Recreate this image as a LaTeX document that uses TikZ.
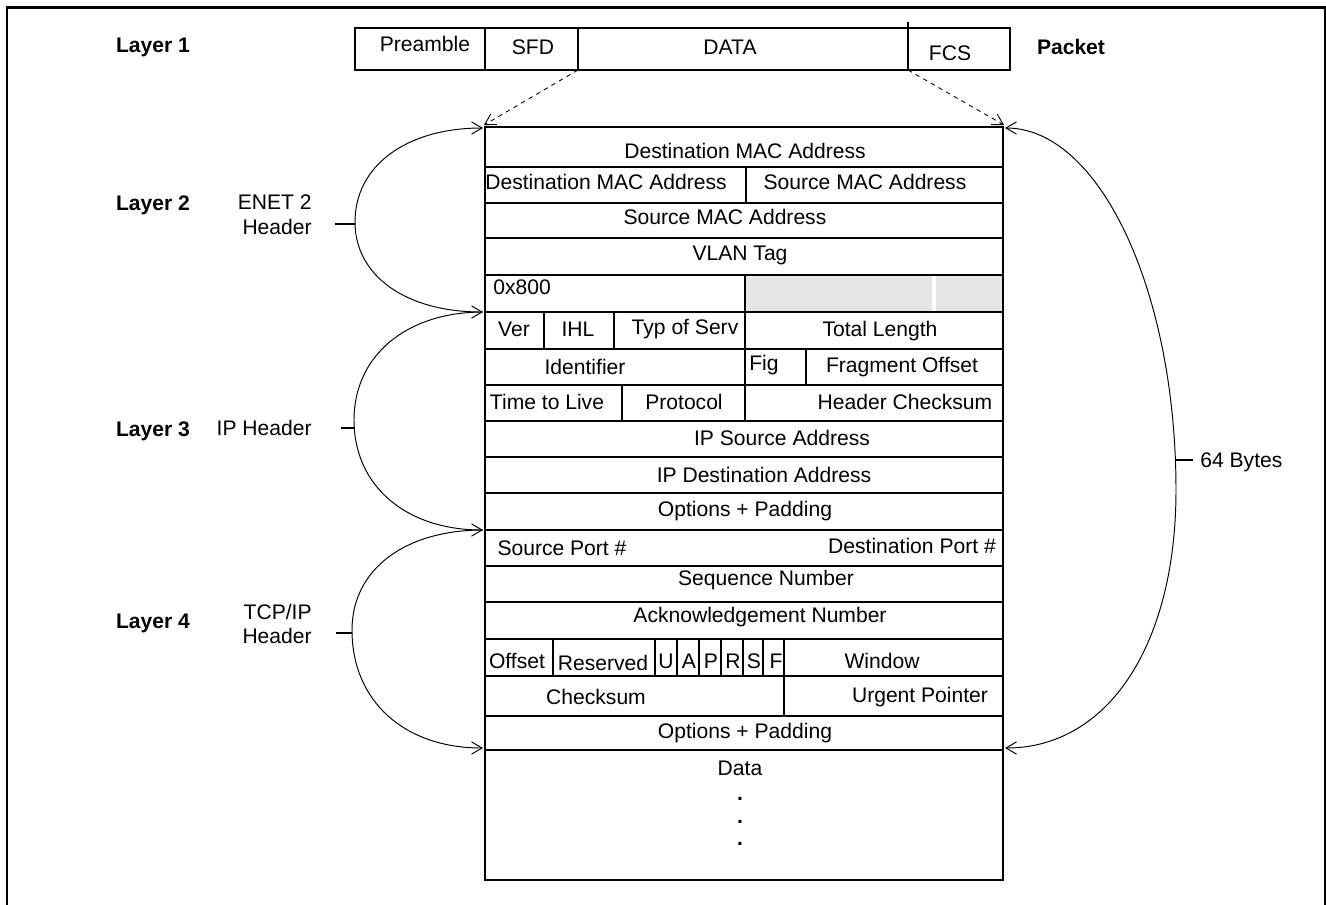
\documentclass[tikz,border=0pt]{standalone}
\usepackage{fontspec}
\setmainfont{Liberation Sans}
\usetikzlibrary{arrows.meta}

\begin{document}
\begin{tikzpicture}[x=0.02cm,y=-0.02cm]
\tikzstyle{every node}+=[inner sep=0pt,font=\fontsize{12}{14}\selectfont]
\tikzstyle{layerlabel}=[font=\fontsize{12}{14}\selectfont\bfseries]
\tikzstyle{cellline}=[line width=1.1pt]
\tikzstyle{tickline}=[line width=0.9pt]
\tikzstyle{span}=[line width=0.55pt,-{Straight Barb[length=6pt,width=7pt]}]
\tikzstyle{spans}=[line width=0.55pt,{Straight Barb[length=6pt,width=7pt]}-{Straight Barb[length=6pt,width=7pt]}]
\tikzstyle{feed}=[line width=0.5pt,dash pattern=on 2.5pt off 2.5pt,-{Straight Barb[length=6pt,width=7pt]}]
\useasboundingbox (0,0) rectangle (1326,904);
\draw [line width=1.7pt] (7,910) -- (7,7) -- (1325,7) -- (1325,910);
% layer 1 packet
\draw [cellline] (355,28) rectangle (1010,70);
\draw [cellline] (485,28) -- (485,70);
\draw [cellline] (578,28) -- (578,70);
\draw [cellline] (908,22) -- (908,70);
\node (pre) at (425,44) {Preamble};
\node (sfd) at (533,47) {SFD};
\node (pdata) at (730,47) {DATA};
\node (fcs) at (950,53) {FCS};
\node [layerlabel] (pkt) at (1071,47) {Packet};
\node [layerlabel] (l1) at (153,47) {Layer 1};
\node [layerlabel] (l2) at (153,205) {Layer 2};
\node [layerlabel] (l3) at (153,431) {Layer 3};
\node [layerlabel] (l4) at (153,623) {Layer 4};
\coordinate (sfdend) at (578,70);
\coordinate (fcsstart) at (908,70);
\coordinate (pktl) at (484,125);
\coordinate (pktr) at (1004,125);
\draw [feed] (sfdend) -- (pktl);
\draw [feed] (fcsstart) -- (pktr);
% frame table
\fill [gray!20] (746,276) rectangle (932,311);
\fill [gray!20] (936,276) rectangle (1003,311);
\draw [cellline] (485,127) rectangle (1003,880);
\foreach \y in {167,203,238,275,312,349,385,421,457,493,530,566,602,639,676,716,750}
  \draw [cellline] (485,\y) -- (1003,\y);
\foreach \x/\ya/\yb in {746/167/203,745/275/421,544/312/349,614/312/349,806/349/385,622/385/421,
  553/639/676,655/639/676,677/639/676,699/639/676,721/639/676,743/639/676,763/639/676,784/639/716}
  \draw [cellline] (\x,\ya) -- (\x,\yb);
\node (dmac) at (745,151) {Destination MAC Address};
\node (dmacb) at (606,182) {Destination MAC Address};
\node (smaca) at (865,182) {Source MAC Address};
\node (smac) at (725,217) {Source MAC Address};
\node (vlan) at (740,255) {VLAN Tag};
\node [anchor=west] (etype) at (493,287) {0x800};
\node (ver) at (514,329) {Ver};
\node (ihl) at (578,329) {IHL};
\node (tos) at (685,329) {Typ of Serv};
\node (tlen) at (880,331) {Total Length};
\node (ident) at (585,367) {Identifier};
\node (flg) at (764,365) {Fig};
\node (frag) at (902,367) {Fragment Offset};
\node (ttl) at (547,402) {Time to Live};
\node (proto) at (684,402) {Protocol};
\node (hcs) at (905,402) {Header Checksum};
\node (ipsrc) at (782,438) {IP Source Address};
\node (ipdst) at (764,475) {IP Destination Address};
\node (ipopt) at (745,511) {Options + Padding};
\node (sport) at (562,548) {Source Port \#};
\node (dport) at (912,546) {Destination Port \#};
\node (seq) at (766,580) {Sequence Number};
\node (ack) at (760,617) {Acknowledgement Number};
\node (offs) at (517,661) {Offset};
\node (resv) at (603,663) {Reserved};
\node (furg) at (666,661) {U};
\node (fack) at (689,661) {A};
\node (fpsh) at (711,661) {P};
\node (frst) at (733,661) {R};
\node (fsyn) at (754,661) {S};
\node (ffin) at (776,661) {F};
\node (win) at (882,661) {Window};
\node (tcs) at (596,697) {Checksum};
\node (urg) at (920,697) {Urgent Pointer};
\node (tcpopt) at (745,733) {Options + Padding};
\node (payload) at (740,768) {Data};
\node [font=\fontsize{12}{14}\selectfont\bfseries] (dot1) at (740,799) {.};
\node [font=\fontsize{12}{14}\selectfont\bfseries] (dot2) at (740,822) {.};
\node [font=\fontsize{12}{14}\selectfont\bfseries] (dot3) at (740,844) {.};
% headers
\coordinate (hdr0) at (483,128);
\coordinate (hdr1) at (483,312);
\coordinate (hdr2) at (483,530);
\coordinate (hdr3) at (483,748);
\coordinate (enetmid) at (355,222);
\coordinate (ipmid) at (354,420);
\coordinate (tcpmid) at (352,630);
\draw [spans] (hdr0) .. controls +(-77,0) and +(0,-56) .. (enetmid) .. controls +(0,54) and +(-77,0) .. (hdr1);
\draw [span] (hdr1) .. controls +(-77,0) and +(0,-64) .. (ipmid) .. controls +(0,66) and +(-77,0) .. (hdr2);
\draw [span] (hdr2) .. controls +(-79,0) and +(0,-60) .. (tcpmid) .. controls +(0,71) and +(-79,0) .. (hdr3);
\coordinate (enettick) at (355,224);
\coordinate (iptick) at (355,428);
\coordinate (tcptick) at (352,633);
\draw [tickline] (enettick) -- ++(-20,0);
\draw [tickline] (iptick) -- ++(-14,0);
\draw [tickline] (tcptick) -- ++(-16,0);
\node [anchor=east,align=right] (enet) at (312,215) {ENET 2\\Header};
\node [anchor=east] (iph) at (312,428) {IP Header};
\node [anchor=east,align=right] (tcph) at (312,624) {TCP/IP\\Header};
% 64 bytes
\coordinate (tail0) at (1005,128);
\coordinate (tail1) at (1005,748);
\coordinate (bulge) at (1176,490);
\draw [spans] (tail0) .. controls +(94,0) and +(0,-200) .. (bulge) .. controls +(0,155) and +(103,0) .. (tail1);
\coordinate (bytetick) at (1176,460);
\draw [tickline] (bytetick) -- ++(17,0);
\node [anchor=west] (bytes) at (1200,462) {64 Bytes};
\end{tikzpicture}
\end{document}
